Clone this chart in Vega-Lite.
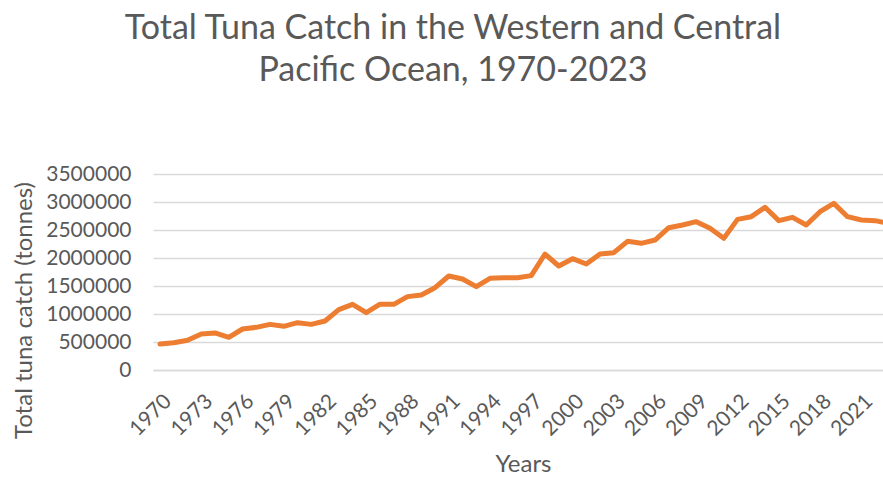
{
  "$schema": "https://vega.github.io/schema/vega-lite/v6.json",
  "width": 730,
  "height": 196,
  "autosize": {"type": "none"},
  "padding": {"left": 153, "top": 174, "right": 0, "bottom": 107},
  "background": "white",
  "title": {
    "text": ["Total Tuna Catch in the Western and Central", "Pacific Ocean, 1970-2023"],
    "font": "Lato",
    "fontSize": 34,
    "fontWeight": "normal",
    "color": "#595959",
    "lineHeight": 42,
    "anchor": "middle",
    "dx": -65,
    "offset": 75
  },
  "config": {
    "view": {"stroke": null},
    "axis": {
      "labelFont": "Lato",
      "titleFont": "Lato",
      "labelColor": "#595959",
      "titleColor": "#595959",
      "labelFontSize": 21,
      "titleFontSize": 24,
      "titleFontWeight": "normal"
    }
  },
  "data": {
    "values": [
      {"year": 1970, "catch": 464000},
      {"year": 1971, "catch": 487000},
      {"year": 1972, "catch": 530000},
      {"year": 1973, "catch": 643000},
      {"year": 1974, "catch": 661000},
      {"year": 1975, "catch": 583000},
      {"year": 1976, "catch": 732000},
      {"year": 1977, "catch": 762000},
      {"year": 1978, "catch": 815000},
      {"year": 1979, "catch": 780000},
      {"year": 1980, "catch": 845000},
      {"year": 1981, "catch": 815000},
      {"year": 1982, "catch": 875000},
      {"year": 1983, "catch": 1077000},
      {"year": 1984, "catch": 1172000},
      {"year": 1985, "catch": 1024000},
      {"year": 1986, "catch": 1175000},
      {"year": 1987, "catch": 1172000},
      {"year": 1988, "catch": 1310000},
      {"year": 1989, "catch": 1340000},
      {"year": 1990, "catch": 1470000},
      {"year": 1991, "catch": 1679000},
      {"year": 1992, "catch": 1625000},
      {"year": 1993, "catch": 1488000},
      {"year": 1994, "catch": 1637000},
      {"year": 1995, "catch": 1649000},
      {"year": 1996, "catch": 1649000},
      {"year": 1997, "catch": 1685000},
      {"year": 1998, "catch": 2071000},
      {"year": 1999, "catch": 1857000},
      {"year": 2000, "catch": 1988000},
      {"year": 2001, "catch": 1893000},
      {"year": 2002, "catch": 2071000},
      {"year": 2003, "catch": 2095000},
      {"year": 2004, "catch": 2298000},
      {"year": 2005, "catch": 2262000},
      {"year": 2006, "catch": 2321000},
      {"year": 2007, "catch": 2541000},
      {"year": 2008, "catch": 2589000},
      {"year": 2009, "catch": 2649000},
      {"year": 2010, "catch": 2530000},
      {"year": 2011, "catch": 2351000},
      {"year": 2012, "catch": 2690000},
      {"year": 2013, "catch": 2738000},
      {"year": 2014, "catch": 2905000},
      {"year": 2015, "catch": 2667000},
      {"year": 2016, "catch": 2726000},
      {"year": 2017, "catch": 2589000},
      {"year": 2018, "catch": 2827000},
      {"year": 2019, "catch": 2976000},
      {"year": 2020, "catch": 2738000},
      {"year": 2021, "catch": 2678000},
      {"year": 2022, "catch": 2667000},
      {"year": 2023, "catch": 2618000}
    ]
  },
  "mark": {"type": "line", "color": "#ED7D31", "strokeWidth": 5, "clip": true, "strokeJoin": "round", "strokeCap": "round"},
  "encoding": {
    "x": {
      "field": "year",
      "type": "quantitative",
      "title": "Years",
      "scale": {"domain": [1969.49, 2022.58], "nice": false, "zero": false},
      "axis": {
        "values": [1970, 1973, 1976, 1979, 1982, 1985, 1988, 1991, 1994, 1997, 2000, 2003, 2006, 2009, 2012, 2015, 2018, 2021],
        "format": "d",
        "labelAngle": -45,
        "labelAlign": "right",
        "labelBaseline": "top",
        "labelPadding": 20,
        "ticks": false,
        "tickSize": 0,
        "grid": false,
        "domain": true,
        "domainColor": "#D9D9D9",
        "domainWidth": 1.5,
        "labelFlush": false,
        "labelOverlap": false,
        "labelBound": false,
        "titleX": 370,
        "titleY": 106,
        "titleBaseline": "bottom",
        "titleAnchor": null
      }
    },
    "y": {
      "field": "catch",
      "type": "quantitative",
      "title": "Total tuna catch (tonnes)",
      "scale": {"domain": [0, 3500000], "nice": false},
      "axis": {
        "values": [0, 500000, 1000000, 1500000, 2000000, 2500000, 3000000, 3500000],
        "format": "d",
        "grid": true,
        "gridColor": "#D9D9D9",
        "gridWidth": 1.5,
        "ticks": false,
        "tickSize": 0,
        "domain": false,
        "labelPadding": 22,
        "labelFlush": false,
        "labelOverlap": false,
        "labelBound": false,
        "titleX": -117,
        "titleY": 136,
        "titleBaseline": "bottom",
        "titleAngle": -90
      }
    }
  }
}
